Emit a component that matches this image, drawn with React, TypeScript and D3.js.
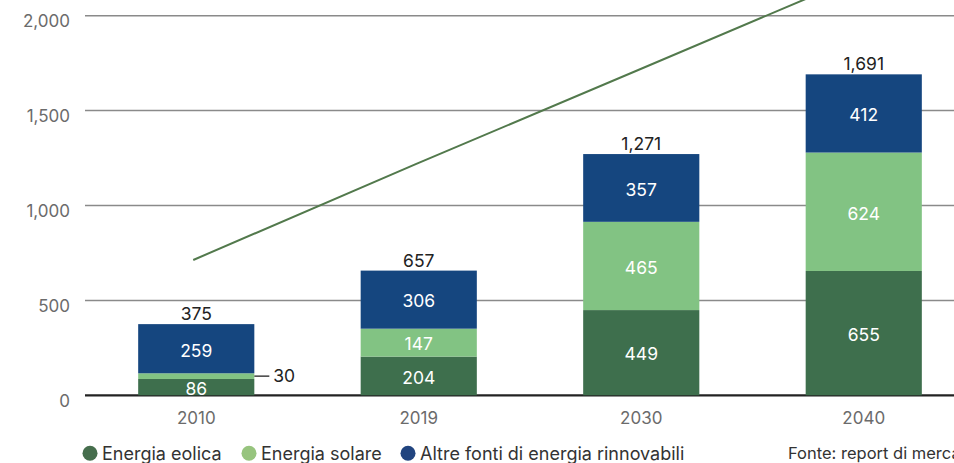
import React from "react";
import * as d3 from "d3";

const years = ["2010", "2019", "2030", "2040"];
const eolica = [86, 204, 449, 655];
const solare = [30, 147, 465, 624];
const altre = [259, 306, 357, 412];
const totals = [375, 657, 1271, 1691];
const trend = [713, 1218, 1714, 2211];
const yTicks = [0, 500, 1000, 1500, 2000];
const seriesNames = ["Energia eolica", "Energia solare", "Altre fonti di energia rinnovabili"];
const colors = ["#3e6f4d", "#82c383", "#15467f"];
const legendColors = ["#466e4d", "#97c47e", "#21447f"];
const source = "Fonte: report di mercato";

const W = 954;
const H = 463;
const FONT = "Inter, 'Liberation Sans', sans-serif";

export default function App() {
  const x = d3.scaleBand().domain(years).range([85, 975]).paddingInner(0.478).paddingOuter(0.239);
  const y = d3.scaleLinear().domain([0, 2000]).range([395.3, 15.7]);
  const bw = x.bandwidth();

  const rows = years.map((yr, i) => ({ yr, eolica: eolica[i], solare: solare[i], altre: altre[i] }));
  const stack = d3.stack<any>().keys(["eolica", "solare", "altre"])(rows);

  const line = d3
    .line<number>()
    .x((_, i) => (x(years[i]) as number) + bw / 2 - 3)
    .y((d) => y(d));

  const legendX = [90, 249, 408];

  return (
    <svg width={W} height={H} style={{ position: "absolute", left: 0, top: 0 }} fontFamily={FONT}>
      {yTicks.map((t) => (
        <g key={t}>
          <line x1={85} x2={W} y1={y(t)} y2={y(t)} stroke={t === 0 ? "#222" : "#8a8a8a"} strokeWidth={t === 0 ? 2.2 : 1.5} />
          <text x={70} y={y(t) + 5.5} dy="0.36em" textAnchor="end" fontSize={17} fill="#6b6b6b">
            {d3.format(",")(t)}
          </text>
        </g>
      ))}
      {stack.map((s, si) =>
        s.map((d, i) => {
          const x0 = x(years[i]) as number;
          const y0 = y(d[1]);
          const y1 = y(d[0]);
          const val = d[1] - d[0];
          return (
            <g key={si + "-" + i}>
              <rect x={x0} y={y0} width={bw} height={y1 - y0} fill={colors[si]} />
              {val >= 50 && (
                <text x={x0 + bw / 2} y={(y0 + y1) / 2 + 1.5} dy="0.36em" textAnchor="middle" fontSize={17.5} fill="#fff">
                  {val}
                </text>
              )}
              {val < 50 && (
                <g>
                  <line x1={x0 + bw} x2={x0 + bw + 15} y1={(y0 + y1) / 2} y2={(y0 + y1) / 2} stroke="#222" strokeWidth={1.3} />
                  <text x={x0 + bw + 19} y={(y0 + y1) / 2} dy="0.36em" fontSize={17.5} fill="#222">
                    {val}
                  </text>
                </g>
              )}
            </g>
          );
        })
      )}
      {years.map((yr, i) => (
        <g key={yr}>
          <text x={(x(yr) as number) + bw / 2} y={y(totals[i]) - 4} textAnchor="middle" fontSize={17.5} fill="#222">
            {d3.format(",")(totals[i])}
          </text>
          <text x={(x(yr) as number) + bw / 2} y={418} dy="0.36em" textAnchor="middle" fontSize={17} fill="#6b6b6b">
            {yr}
          </text>
        </g>
      ))}
      <path d={line(trend) || ""} fill="none" stroke="#52794c" strokeWidth={2} />
      {seriesNames.map((n, i) => (
        <g key={n}>
          <circle cx={legendX[i]} cy={453.3} r={7.5} fill={legendColors[i]} />
          <text x={legendX[i] + 12} y={460} fontSize={18} fill="#333">
            {n}
          </text>
        </g>
      ))}
      <text x={788} y={459} fontSize={16.5} fill="#333">
        {source}
      </text>
    </svg>
  );
}
